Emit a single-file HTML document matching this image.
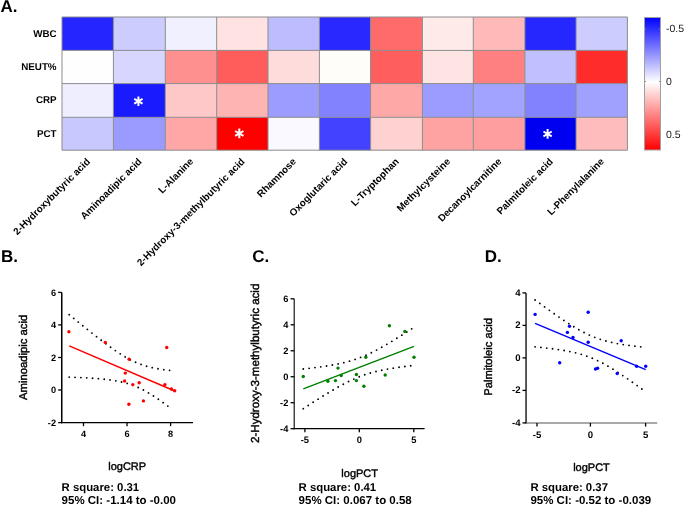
<!DOCTYPE html>
<html><head><meta charset="utf-8"><style>
html,body{margin:0;padding:0;background:#fff;}
body{width:685px;height:505px;overflow:hidden;}
svg{display:block;font-family:"Liberation Sans",sans-serif;text-rendering:geometricPrecision;will-change:transform;}
</style></head><body>
<svg width="685" height="505" viewBox="0 0 685 505">
<rect width="685" height="505" fill="#fff"/>
<rect x="62.00" y="17.00" width="51.40" height="33.40" fill="#2525ff"/>
<rect x="113.40" y="17.00" width="51.90" height="33.40" fill="#ccccff"/>
<rect x="165.30" y="17.00" width="51.40" height="33.40" fill="#f0f0ff"/>
<rect x="216.70" y="17.00" width="51.30" height="33.40" fill="#ffe2e2"/>
<rect x="268.00" y="17.00" width="51.40" height="33.40" fill="#bcbcff"/>
<rect x="319.40" y="17.00" width="51.20" height="33.40" fill="#2828ff"/>
<rect x="370.60" y="17.00" width="51.80" height="33.40" fill="#ff6a6a"/>
<rect x="422.40" y="17.00" width="50.90" height="33.40" fill="#ffeaea"/>
<rect x="473.30" y="17.00" width="51.60" height="33.40" fill="#ffb9b9"/>
<rect x="524.90" y="17.00" width="51.20" height="33.40" fill="#2626ff"/>
<rect x="576.10" y="17.00" width="51.30" height="33.40" fill="#ccccff"/>
<rect x="62.00" y="50.40" width="51.40" height="33.20" fill="#fefefe"/>
<rect x="113.40" y="50.40" width="51.90" height="33.20" fill="#d6d6ff"/>
<rect x="165.30" y="50.40" width="51.40" height="33.20" fill="#ff9090"/>
<rect x="216.70" y="50.40" width="51.30" height="33.20" fill="#ff5c5c"/>
<rect x="268.00" y="50.40" width="51.40" height="33.20" fill="#ffdcdc"/>
<rect x="319.40" y="50.40" width="51.20" height="33.20" fill="#fffdfa"/>
<rect x="370.60" y="50.40" width="51.80" height="33.20" fill="#ff5e5e"/>
<rect x="422.40" y="50.40" width="50.90" height="33.20" fill="#ffe4e4"/>
<rect x="473.30" y="50.40" width="51.60" height="33.20" fill="#ff8080"/>
<rect x="524.90" y="50.40" width="51.20" height="33.20" fill="#c0c0ff"/>
<rect x="576.10" y="50.40" width="51.30" height="33.20" fill="#ff2c2c"/>
<rect x="62.00" y="83.60" width="51.40" height="33.70" fill="#eeeeff"/>
<rect x="113.40" y="83.60" width="51.90" height="33.70" fill="#1a1aff"/>
<rect x="165.30" y="83.60" width="51.40" height="33.70" fill="#ffc8c8"/>
<rect x="216.70" y="83.60" width="51.30" height="33.70" fill="#ffb4b4"/>
<rect x="268.00" y="83.60" width="51.40" height="33.70" fill="#9c9cff"/>
<rect x="319.40" y="83.60" width="51.20" height="33.70" fill="#8282ff"/>
<rect x="370.60" y="83.60" width="51.80" height="33.70" fill="#ffa8a8"/>
<rect x="422.40" y="83.60" width="50.90" height="33.70" fill="#9c9cff"/>
<rect x="473.30" y="83.60" width="51.60" height="33.70" fill="#a2a2ff"/>
<rect x="524.90" y="83.60" width="51.20" height="33.70" fill="#8282ff"/>
<rect x="576.10" y="83.60" width="51.30" height="33.70" fill="#a0a0ff"/>
<rect x="62.00" y="117.30" width="51.40" height="32.90" fill="#c8c8ff"/>
<rect x="113.40" y="117.30" width="51.90" height="32.90" fill="#9a9aff"/>
<rect x="165.30" y="117.30" width="51.40" height="32.90" fill="#ffa6a6"/>
<rect x="216.70" y="117.30" width="51.30" height="32.90" fill="#ff0000"/>
<rect x="268.00" y="117.30" width="51.40" height="32.90" fill="#f9f9ff"/>
<rect x="319.40" y="117.30" width="51.20" height="32.90" fill="#4242ff"/>
<rect x="370.60" y="117.30" width="51.80" height="32.90" fill="#ffd2d2"/>
<rect x="422.40" y="117.30" width="50.90" height="32.90" fill="#ffa2a2"/>
<rect x="473.30" y="117.30" width="51.60" height="32.90" fill="#ff9e9e"/>
<rect x="524.90" y="117.30" width="51.20" height="32.90" fill="#0000f0"/>
<rect x="576.10" y="117.30" width="51.30" height="32.90" fill="#ffbcbc"/>
<path d="M62.00 17.00V150.20M113.40 17.00V150.20M165.30 17.00V150.20M216.70 17.00V150.20M268.00 17.00V150.20M319.40 17.00V150.20M370.60 17.00V150.20M422.40 17.00V150.20M473.30 17.00V150.20M524.90 17.00V150.20M576.10 17.00V150.20M627.40 17.00V150.20M62.00 17.00H627.50M62.00 50.40H627.50M62.00 83.60H627.50M62.00 117.30H627.50M62.00 150.20H627.50" stroke="#8c8c8c" stroke-width="1" fill="none"/>
<path d="M138.40 96.50L138.40 106.10M134.24 98.90L142.56 103.70M142.56 98.90L134.24 103.70" stroke="#fff" stroke-width="2.0" stroke-linecap="butt"/>
<path d="M239.30 128.60L239.30 138.20M235.14 131.00L243.46 135.80M243.46 131.00L235.14 135.80" stroke="#fff" stroke-width="2.0" stroke-linecap="butt"/>
<path d="M547.60 129.10L547.60 138.70M543.44 131.50L551.76 136.30M551.76 131.50L543.44 136.30" stroke="#fff" stroke-width="2.0" stroke-linecap="butt"/>
<text x="56.60" y="36.60" font-size="9.8" text-anchor="end" font-weight="bold" fill="#000" >WBC</text>
<text x="56.60" y="69.90" font-size="9.8" text-anchor="end" font-weight="bold" fill="#000" >NEUT%</text>
<text x="56.60" y="103.35" font-size="9.8" text-anchor="end" font-weight="bold" fill="#000" >CRP</text>
<text x="56.60" y="136.65" font-size="9.8" text-anchor="end" font-weight="bold" fill="#000" >PCT</text>
<text x="90.70" y="162.20" font-size="9.9" text-anchor="end" font-weight="bold" fill="#000" transform="rotate(-45 90.70 162.20)">2-Hydroxybutyric acid</text>
<text x="142.35" y="162.20" font-size="9.9" text-anchor="end" font-weight="bold" fill="#000" transform="rotate(-45 142.35 162.20)">Aminoadipic acid</text>
<text x="194.00" y="162.20" font-size="9.9" text-anchor="end" font-weight="bold" fill="#000" transform="rotate(-45 194.00 162.20)">L-Alanine</text>
<text x="245.35" y="162.20" font-size="9.9" text-anchor="end" font-weight="bold" fill="#000" transform="rotate(-45 245.35 162.20)">2-Hydroxy-3-methylbutyric acid</text>
<text x="296.70" y="162.20" font-size="9.9" text-anchor="end" font-weight="bold" fill="#000" transform="rotate(-45 296.70 162.20)">Rhamnose</text>
<text x="348.00" y="162.20" font-size="9.9" text-anchor="end" font-weight="bold" fill="#000" transform="rotate(-45 348.00 162.20)">Oxoglutaric acid</text>
<text x="399.50" y="162.20" font-size="9.9" text-anchor="end" font-weight="bold" fill="#000" transform="rotate(-45 399.50 162.20)">L-Tryptophan</text>
<text x="450.85" y="162.20" font-size="9.9" text-anchor="end" font-weight="bold" fill="#000" transform="rotate(-45 450.85 162.20)">Methylcysteine</text>
<text x="502.10" y="162.20" font-size="9.9" text-anchor="end" font-weight="bold" fill="#000" transform="rotate(-45 502.10 162.20)">Decanoylcarnitine</text>
<text x="553.50" y="162.20" font-size="9.9" text-anchor="end" font-weight="bold" fill="#000" transform="rotate(-45 553.50 162.20)">Palmitoleic acid</text>
<text x="604.75" y="162.20" font-size="9.9" text-anchor="end" font-weight="bold" fill="#000" transform="rotate(-45 604.75 162.20)">L-Phenylalanine</text>
<defs><linearGradient id="cb" x1="0" y1="0" x2="0" y2="1"><stop offset="0" stop-color="#0000ff"/><stop offset="0.487" stop-color="#ffffff"/><stop offset="1" stop-color="#ff0000"/></linearGradient></defs>
<rect x="644.5" y="17.5" width="16" height="132.5" fill="url(#cb)" stroke="#a0a0a0" stroke-width="1"/>
<path d="M644.5 29.0h1.5M660.5 29.0h-1.5" stroke="#888" stroke-width="1"/>
<path d="M644.5 81.5h1.5M660.5 81.5h-1.5" stroke="#888" stroke-width="1"/>
<path d="M644.5 134.5h1.5M660.5 134.5h-1.5" stroke="#888" stroke-width="1"/>
<text x="666.00" y="32.20" font-size="10.5" text-anchor="start" font-weight="normal" fill="#222" >-0.5</text>
<text x="666.00" y="85.30" font-size="10.5" text-anchor="start" font-weight="normal" fill="#222" >0</text>
<text x="666.00" y="138.30" font-size="10.5" text-anchor="start" font-weight="normal" fill="#222" >0.5</text>
<text x="0.50" y="12.20" font-size="17" text-anchor="start" font-weight="bold" fill="#000" >A.</text>
<text x="1.00" y="262.40" font-size="17" text-anchor="start" font-weight="bold" fill="#000" >B.</text>
<text x="252.30" y="262.30" font-size="17" text-anchor="start" font-weight="bold" fill="#000" >C.</text>
<text x="484.80" y="262.10" font-size="17" text-anchor="start" font-weight="bold" fill="#000" >D.</text>
<path d="M61.75 292.40V423.30" stroke="#000" stroke-width="1.5" fill="none"/>
<path d="M61.00 422.60H193.00" stroke="#000" stroke-width="1.4" fill="none"/>
<path d="M58.15 292.40H61.75" stroke="#000" stroke-width="1.3"/>
<text x="56.00" y="295.80" font-size="9.2" text-anchor="end" font-weight="bold" fill="#000" >6</text>
<path d="M58.15 324.90H61.75" stroke="#000" stroke-width="1.3"/>
<text x="56.00" y="328.30" font-size="9.2" text-anchor="end" font-weight="bold" fill="#000" >4</text>
<path d="M58.15 357.50H61.75" stroke="#000" stroke-width="1.3"/>
<text x="56.00" y="360.90" font-size="9.2" text-anchor="end" font-weight="bold" fill="#000" >2</text>
<path d="M58.15 390.00H61.75" stroke="#000" stroke-width="1.3"/>
<text x="56.00" y="393.40" font-size="9.2" text-anchor="end" font-weight="bold" fill="#000" >0</text>
<path d="M58.15 422.60H61.75" stroke="#000" stroke-width="1.3"/>
<text x="56.00" y="426.00" font-size="9.2" text-anchor="end" font-weight="bold" fill="#000" >-2</text>
<path d="M83.50 422.60V426.20" stroke="#000" stroke-width="1.3"/>
<text x="83.50" y="437.40" font-size="9.2" text-anchor="middle" font-weight="bold" fill="#000" >4</text>
<path d="M127.00 422.60V426.20" stroke="#000" stroke-width="1.3"/>
<text x="127.00" y="437.40" font-size="9.2" text-anchor="middle" font-weight="bold" fill="#000" >6</text>
<path d="M170.60 422.60V426.20" stroke="#000" stroke-width="1.3"/>
<text x="170.60" y="437.40" font-size="9.2" text-anchor="middle" font-weight="bold" fill="#000" >8</text>
<path d="M69.20 314.68 L69.54 314.96 L69.87 315.24 L70.21 315.51 L70.54 315.79 L70.88 316.06 L71.21 316.34 L71.55 316.61 L71.89 316.89 L72.22 317.16 L72.56 317.44 L72.89 317.71 L73.23 317.99 L73.57 318.26 L73.90 318.54 L74.24 318.81 L74.57 319.09 L74.91 319.36 L75.24 319.64 L75.58 319.91 L75.92 320.18 L76.25 320.46 L76.59 320.73 L76.92 321.00 L77.26 321.28 L77.59 321.55 L77.93 321.82 L78.27 322.10 L78.60 322.37 L78.94 322.64 L79.27 322.92 L79.61 323.19 L79.95 323.46 L80.28 323.73 L80.62 324.00 L80.95 324.28 L81.29 324.55 L81.62 324.82 L81.96 325.09 L82.30 325.36 L82.63 325.63 L82.97 325.90 L83.30 326.17 L83.64 326.44 L83.97 326.71 L84.31 326.99 L84.65 327.26 L84.98 327.52 L85.32 327.79 L85.65 328.06 L85.99 328.33 L86.33 328.60 L86.66 328.87 L87.00 329.14 L87.33 329.41 L87.67 329.68 L88.00 329.94 L88.34 330.21 L88.68 330.48 L89.01 330.75 L89.35 331.01 L89.68 331.28 L90.02 331.55 L90.35 331.81 L90.69 332.08 L91.03 332.34 L91.36 332.61 L91.70 332.88 L92.03 333.14 L92.37 333.41 L92.71 333.67 L93.04 333.93 L93.38 334.20 L93.71 334.46 L94.05 334.73 L94.38 334.99 L94.72 335.25 L95.06 335.51 L95.39 335.78 L95.73 336.04 L96.06 336.30 L96.40 336.56 L96.73 336.82 L97.07 337.08 L97.41 337.34 L97.74 337.60 L98.08 337.86 L98.41 338.12 L98.75 338.38 L99.08 338.64 L99.42 338.90 L99.76 339.16 L100.09 339.41 L100.43 339.67 L100.76 339.93 L101.10 340.18 L101.44 340.44 L101.77 340.70 L102.11 340.95 L102.44 341.21 L102.78 341.46 L103.11 341.71 L103.45 341.97 L103.79 342.22 L104.12 342.47 L104.46 342.72 L104.79 342.98 L105.13 343.23 L105.46 343.48 L105.80 343.73 L106.14 343.98 L106.47 344.22 L106.81 344.47 L107.14 344.72 L107.48 344.97 L107.82 345.21 L108.15 345.46 L108.49 345.70 L108.82 345.95 L109.16 346.19 L109.49 346.44 L109.83 346.68 L110.17 346.92 L110.50 347.16 L110.84 347.40 L111.17 347.64 L111.51 347.88 L111.84 348.12 L112.18 348.36 L112.52 348.60 L112.85 348.83 L113.19 349.07 L113.52 349.31 L113.86 349.54 L114.20 349.77 L114.53 350.01 L114.87 350.24 L115.20 350.47 L115.54 350.70 L115.87 350.93 L116.21 351.16 L116.55 351.38 L116.88 351.61 L117.22 351.84 L117.55 352.06 L117.89 352.28 L118.22 352.51 L118.56 352.73 L118.90 352.95 L119.23 353.17 L119.57 353.39 L119.90 353.60 L120.24 353.82 L120.58 354.03 L120.91 354.25 L121.25 354.46 L121.58 354.67 L121.92 354.88 L122.25 355.09 L122.59 355.30 L122.93 355.51 L123.26 355.71 L123.60 355.92 L123.93 356.12 L124.27 356.32 L124.60 356.52 L124.94 356.72 L125.28 356.92 L125.61 357.12 L125.95 357.31 L126.28 357.51 L126.62 357.70 L126.96 357.89 L127.29 358.08 L127.63 358.27 L127.96 358.45 L128.30 358.64 L128.63 358.82 L128.97 359.00 L129.31 359.18 L129.64 359.36 L129.98 359.54 L130.31 359.72 L130.65 359.89 L130.98 360.06 L131.32 360.23 L131.66 360.40 L131.99 360.57 L132.33 360.74 L132.66 360.90 L133.00 361.06 L133.34 361.22 L133.67 361.38 L134.01 361.54 L134.34 361.70 L134.68 361.85 L135.01 362.00 L135.35 362.15 L135.69 362.30 L136.02 362.45 L136.36 362.60 L136.69 362.74 L137.03 362.88 L137.36 363.02 L137.70 363.16 L138.04 363.30 L138.37 363.43 L138.71 363.57 L139.04 363.70 L139.38 363.83 L139.72 363.96 L140.05 364.09 L140.39 364.21 L140.72 364.34 L141.06 364.46 L141.39 364.58 L141.73 364.70 L142.07 364.81 L142.40 364.93 L142.74 365.04 L143.07 365.16 L143.41 365.27 L143.74 365.38 L144.08 365.48 L144.42 365.59 L144.75 365.69 L145.09 365.80 L145.42 365.90 L145.76 366.00 L146.09 366.10 L146.43 366.19 L146.77 366.29 L147.10 366.38 L147.44 366.48 L147.77 366.57 L148.11 366.66 L148.45 366.75 L148.78 366.83 L149.12 366.92 L149.45 367.00 L149.79 367.09 L150.12 367.17 L150.46 367.25 L150.80 367.33 L151.13 367.41 L151.47 367.49 L151.80 367.56 L152.14 367.64 L152.47 367.71 L152.81 367.78 L153.15 367.86 L153.48 367.93 L153.82 368.00 L154.15 368.06 L154.49 368.13 L154.83 368.20 L155.16 368.26 L155.50 368.33 L155.83 368.39 L156.17 368.45 L156.50 368.51 L156.84 368.57 L157.18 368.63 L157.51 368.69 L157.85 368.75 L158.18 368.81 L158.52 368.86 L158.85 368.92 L159.19 368.97 L159.53 369.03 L159.86 369.08 L160.20 369.13 L160.53 369.18 L160.87 369.23 L161.21 369.28 L161.54 369.33 L161.88 369.38 L162.21 369.43 L162.55 369.47 L162.88 369.52 L163.22 369.56 L163.56 369.61 L163.89 369.65 L164.23 369.70 L164.56 369.74 L164.90 369.78 L165.23 369.82 L165.57 369.86 L165.91 369.90 L166.24 369.94 L166.58 369.98 L166.91 370.02 L167.25 370.06 L167.59 370.10 L167.92 370.14 L168.26 370.17 L168.59 370.21 L168.93 370.24 L169.26 370.28 L169.60 370.31" stroke="#000" stroke-width="1.85" fill="none" stroke-dasharray="0 5.849" stroke-linecap="round"/>
<path d="M69.20 377.11 L69.55 377.13 L69.89 377.14 L70.24 377.15 L70.58 377.16 L70.93 377.17 L71.27 377.19 L71.62 377.20 L71.96 377.21 L72.31 377.22 L72.65 377.24 L73.00 377.25 L73.35 377.26 L73.69 377.28 L74.04 377.29 L74.38 377.30 L74.73 377.31 L75.07 377.33 L75.42 377.34 L75.76 377.36 L76.11 377.37 L76.46 377.38 L76.80 377.40 L77.15 377.41 L77.49 377.43 L77.84 377.44 L78.18 377.46 L78.53 377.47 L78.87 377.49 L79.22 377.50 L79.56 377.52 L79.91 377.53 L80.26 377.55 L80.60 377.56 L80.95 377.58 L81.29 377.60 L81.64 377.61 L81.98 377.63 L82.33 377.65 L82.67 377.66 L83.02 377.68 L83.36 377.70 L83.71 377.71 L84.06 377.73 L84.40 377.75 L84.75 377.77 L85.09 377.79 L85.44 377.80 L85.78 377.82 L86.13 377.84 L86.47 377.86 L86.82 377.88 L87.17 377.90 L87.51 377.92 L87.86 377.94 L88.20 377.96 L88.55 377.98 L88.89 378.00 L89.24 378.02 L89.58 378.04 L89.93 378.06 L90.27 378.09 L90.62 378.11 L90.97 378.13 L91.31 378.15 L91.66 378.17 L92.00 378.20 L92.35 378.22 L92.69 378.24 L93.04 378.27 L93.38 378.29 L93.73 378.32 L94.07 378.34 L94.42 378.36 L94.77 378.39 L95.11 378.42 L95.46 378.44 L95.80 378.47 L96.15 378.49 L96.49 378.52 L96.84 378.55 L97.18 378.58 L97.53 378.60 L97.88 378.63 L98.22 378.66 L98.57 378.69 L98.91 378.72 L99.26 378.75 L99.60 378.78 L99.95 378.81 L100.29 378.84 L100.64 378.87 L100.98 378.90 L101.33 378.94 L101.68 378.97 L102.02 379.00 L102.37 379.04 L102.71 379.07 L103.06 379.10 L103.40 379.14 L103.75 379.17 L104.09 379.21 L104.44 379.25 L104.78 379.28 L105.13 379.32 L105.48 379.36 L105.82 379.40 L106.17 379.44 L106.51 379.48 L106.86 379.52 L107.20 379.56 L107.55 379.60 L107.89 379.64 L108.24 379.69 L108.59 379.73 L108.93 379.77 L109.28 379.82 L109.62 379.86 L109.97 379.91 L110.31 379.96 L110.66 380.00 L111.00 380.05 L111.35 380.10 L111.69 380.15 L112.04 380.20 L112.39 380.25 L112.73 380.30 L113.08 380.36 L113.42 380.41 L113.77 380.47 L114.11 380.52 L114.46 380.58 L114.80 380.63 L115.15 380.69 L115.49 380.75 L115.84 380.81 L116.19 380.87 L116.53 380.93 L116.88 381.00 L117.22 381.06 L117.57 381.12 L117.91 381.19 L118.26 381.26 L118.60 381.32 L118.95 381.39 L119.30 381.46 L119.64 381.53 L119.99 381.61 L120.33 381.68 L120.68 381.75 L121.02 381.83 L121.37 381.91 L121.71 381.99 L122.06 382.07 L122.40 382.15 L122.75 382.23 L123.10 382.31 L123.44 382.40 L123.79 382.48 L124.13 382.57 L124.48 382.66 L124.82 382.75 L125.17 382.84 L125.51 382.93 L125.86 383.03 L126.21 383.12 L126.55 383.22 L126.90 383.32 L127.24 383.42 L127.59 383.52 L127.93 383.63 L128.28 383.73 L128.62 383.84 L128.97 383.95 L129.31 384.06 L129.66 384.17 L130.01 384.28 L130.35 384.40 L130.70 384.52 L131.04 384.63 L131.39 384.75 L131.73 384.88 L132.08 385.00 L132.42 385.12 L132.77 385.25 L133.11 385.38 L133.46 385.51 L133.81 385.64 L134.15 385.78 L134.50 385.91 L134.84 386.05 L135.19 386.19 L135.53 386.33 L135.88 386.48 L136.22 386.62 L136.57 386.77 L136.92 386.92 L137.26 387.07 L137.61 387.22 L137.95 387.37 L138.30 387.53 L138.64 387.69 L138.99 387.85 L139.33 388.01 L139.68 388.17 L140.02 388.34 L140.37 388.50 L140.72 388.67 L141.06 388.84 L141.41 389.01 L141.75 389.19 L142.10 389.36 L142.44 389.54 L142.79 389.72 L143.13 389.90 L143.48 390.08 L143.82 390.26 L144.17 390.45 L144.52 390.64 L144.86 390.82 L145.21 391.01 L145.55 391.21 L145.90 391.40 L146.24 391.60 L146.59 391.79 L146.93 391.99 L147.28 392.19 L147.63 392.39 L147.97 392.59 L148.32 392.80 L148.66 393.00 L149.01 393.21 L149.35 393.42 L149.70 393.63 L150.04 393.84 L150.39 394.05 L150.73 394.26 L151.08 394.48 L151.43 394.69 L151.77 394.91 L152.12 395.13 L152.46 395.35 L152.81 395.57 L153.15 395.79 L153.50 396.01 L153.84 396.24 L154.19 396.46 L154.53 396.69 L154.88 396.92 L155.23 397.15 L155.57 397.38 L155.92 397.61 L156.26 397.84 L156.61 398.07 L156.95 398.31 L157.30 398.54 L157.64 398.78 L157.99 399.01 L158.34 399.25 L158.68 399.49 L159.03 399.73 L159.37 399.97 L159.72 400.21 L160.06 400.45 L160.41 400.70 L160.75 400.94 L161.10 401.18 L161.44 401.43 L161.79 401.67 L162.14 401.92 L162.48 402.17 L162.83 402.42 L163.17 402.67 L163.52 402.92 L163.86 403.17 L164.21 403.42 L164.55 403.67 L164.90 403.92 L165.24 404.17 L165.59 404.43 L165.94 404.68 L166.28 404.94 L166.63 405.19 L166.97 405.45 L167.32 405.70 L167.66 405.96 L168.01 406.22 L168.35 406.48 L168.70 406.73 L169.05 406.99 L169.39 407.25 L169.74 407.51 L170.08 407.77 L170.43 408.03 L170.77 408.30 L171.12 408.56 L171.46 408.82 L171.81 409.08 L172.15 409.35 L172.50 409.61" stroke="#000" stroke-width="1.85" fill="none" stroke-dasharray="0 5.849" stroke-linecap="round"/>
<path d="M69.20 345.90L174.70 391.04" stroke="#ff0000" stroke-width="1.5"/>
<circle cx="68.90" cy="331.80" r="1.7" fill="#ff0000"/>
<circle cx="105.30" cy="342.40" r="1.7" fill="#ff0000"/>
<circle cx="166.70" cy="347.50" r="1.7" fill="#ff0000"/>
<circle cx="129.10" cy="359.20" r="1.7" fill="#ff0000"/>
<circle cx="125.30" cy="373.10" r="1.7" fill="#ff0000"/>
<circle cx="124.60" cy="381.00" r="1.7" fill="#ff0000"/>
<circle cx="132.80" cy="384.60" r="1.7" fill="#ff0000"/>
<circle cx="139.20" cy="382.80" r="1.7" fill="#ff0000"/>
<circle cx="164.90" cy="384.60" r="1.7" fill="#ff0000"/>
<circle cx="171.40" cy="389.00" r="1.7" fill="#ff0000"/>
<circle cx="174.70" cy="390.70" r="1.7" fill="#ff0000"/>
<circle cx="128.90" cy="404.30" r="1.7" fill="#ff0000"/>
<circle cx="143.40" cy="400.90" r="1.7" fill="#ff0000"/>
<text x="26.60" y="357.40" font-size="11.27" text-anchor="middle" font-weight="normal" fill="#000" transform="rotate(-90 26.60 357.40)" stroke="#000" stroke-width="0.4">Aminoadipic acid</text>
<text x="127.20" y="470.00" font-size="11.0" text-anchor="middle" font-weight="normal" fill="#000" stroke="#000" stroke-width="0.4">logCRP</text>
<text x="61.60" y="491.30" font-size="11.35" text-anchor="start" font-weight="bold" fill="#000" >R square: 0.31</text>
<text x="61.60" y="504.30" font-size="11.5" text-anchor="start" font-weight="bold" fill="#000" >95% CI: -1.14 to -0.00</text>
<path d="M294.20 298.80V429.35" stroke="#000" stroke-width="1.1" fill="none"/>
<path d="M293.65 428.70H424.60" stroke="#000" stroke-width="1.3" fill="none"/>
<path d="M290.60 298.80H294.20" stroke="#000" stroke-width="1.3"/>
<text x="288.40" y="302.00" font-size="9.3" text-anchor="end" font-weight="bold" fill="#000" >6</text>
<path d="M290.60 324.78H294.20" stroke="#000" stroke-width="1.3"/>
<text x="288.40" y="327.98" font-size="9.3" text-anchor="end" font-weight="bold" fill="#000" >4</text>
<path d="M290.60 350.76H294.20" stroke="#000" stroke-width="1.3"/>
<text x="288.40" y="353.96" font-size="9.3" text-anchor="end" font-weight="bold" fill="#000" >2</text>
<path d="M290.60 376.74H294.20" stroke="#000" stroke-width="1.3"/>
<text x="288.40" y="379.94" font-size="9.3" text-anchor="end" font-weight="bold" fill="#000" >0</text>
<path d="M290.60 402.72H294.20" stroke="#000" stroke-width="1.3"/>
<text x="288.40" y="405.92" font-size="9.3" text-anchor="end" font-weight="bold" fill="#000" >-2</text>
<path d="M290.60 428.70H294.20" stroke="#000" stroke-width="1.3"/>
<text x="288.40" y="431.90" font-size="9.3" text-anchor="end" font-weight="bold" fill="#000" >-4</text>
<path d="M304.90 428.70V432.30" stroke="#000" stroke-width="1.3"/>
<text x="304.90" y="443.30" font-size="9.3" text-anchor="middle" font-weight="bold" fill="#000" >-5</text>
<path d="M359.30 428.70V432.30" stroke="#000" stroke-width="1.3"/>
<text x="359.30" y="443.30" font-size="9.3" text-anchor="middle" font-weight="bold" fill="#000" >0</text>
<path d="M413.80 428.70V432.30" stroke="#000" stroke-width="1.3"/>
<text x="413.80" y="443.30" font-size="9.3" text-anchor="middle" font-weight="bold" fill="#000" >5</text>
<path d="M303.30 369.03 L303.66 368.98 L304.03 368.94 L304.39 368.90 L304.75 368.86 L305.11 368.82 L305.48 368.78 L305.84 368.73 L306.20 368.69 L306.56 368.65 L306.93 368.61 L307.29 368.56 L307.65 368.52 L308.01 368.48 L308.38 368.43 L308.74 368.39 L309.10 368.35 L309.46 368.30 L309.83 368.26 L310.19 368.21 L310.55 368.17 L310.91 368.12 L311.28 368.08 L311.64 368.03 L312.00 367.99 L312.36 367.94 L312.73 367.90 L313.09 367.85 L313.45 367.81 L313.81 367.76 L314.18 367.71 L314.54 367.67 L314.90 367.62 L315.26 367.57 L315.63 367.52 L315.99 367.48 L316.35 367.43 L316.71 367.38 L317.08 367.33 L317.44 367.28 L317.80 367.23 L318.16 367.18 L318.53 367.14 L318.89 367.09 L319.25 367.04 L319.61 366.98 L319.98 366.93 L320.34 366.88 L320.70 366.83 L321.06 366.78 L321.43 366.73 L321.79 366.68 L322.15 366.62 L322.51 366.57 L322.88 366.52 L323.24 366.46 L323.60 366.41 L323.96 366.36 L324.33 366.30 L324.69 366.25 L325.05 366.19 L325.42 366.14 L325.78 366.08 L326.14 366.02 L326.50 365.97 L326.87 365.91 L327.23 365.85 L327.59 365.79 L327.95 365.74 L328.32 365.68 L328.68 365.62 L329.04 365.56 L329.40 365.50 L329.77 365.44 L330.13 365.38 L330.49 365.31 L330.85 365.25 L331.22 365.19 L331.58 365.13 L331.94 365.06 L332.30 365.00 L332.67 364.93 L333.03 364.87 L333.39 364.80 L333.75 364.74 L334.12 364.67 L334.48 364.60 L334.84 364.53 L335.20 364.47 L335.57 364.40 L335.93 364.33 L336.29 364.26 L336.65 364.18 L337.02 364.11 L337.38 364.04 L337.74 363.97 L338.10 363.89 L338.47 363.82 L338.83 363.74 L339.19 363.67 L339.55 363.59 L339.92 363.51 L340.28 363.43 L340.64 363.36 L341.00 363.28 L341.37 363.20 L341.73 363.11 L342.09 363.03 L342.45 362.95 L342.82 362.86 L343.18 362.78 L343.54 362.69 L343.90 362.61 L344.27 362.52 L344.63 362.43 L344.99 362.34 L345.35 362.25 L345.72 362.16 L346.08 362.07 L346.44 361.97 L346.81 361.88 L347.17 361.79 L347.53 361.69 L347.89 361.59 L348.26 361.49 L348.62 361.39 L348.98 361.29 L349.34 361.19 L349.71 361.09 L350.07 360.99 L350.43 360.88 L350.79 360.77 L351.16 360.67 L351.52 360.56 L351.88 360.45 L352.24 360.34 L352.61 360.23 L352.97 360.11 L353.33 360.00 L353.69 359.88 L354.06 359.77 L354.42 359.65 L354.78 359.53 L355.14 359.41 L355.51 359.29 L355.87 359.16 L356.23 359.04 L356.59 358.91 L356.96 358.79 L357.32 358.66 L357.68 358.53 L358.04 358.40 L358.41 358.27 L358.77 358.13 L359.13 358.00 L359.49 357.86 L359.86 357.73 L360.22 357.59 L360.58 357.45 L360.94 357.31 L361.31 357.16 L361.67 357.02 L362.03 356.87 L362.39 356.73 L362.76 356.58 L363.12 356.43 L363.48 356.28 L363.84 356.13 L364.21 355.98 L364.57 355.82 L364.93 355.67 L365.29 355.51 L365.66 355.35 L366.02 355.19 L366.38 355.03 L366.74 354.87 L367.11 354.71 L367.47 354.54 L367.83 354.38 L368.19 354.21 L368.56 354.04 L368.92 353.87 L369.28 353.70 L369.65 353.53 L370.01 353.36 L370.37 353.19 L370.73 353.01 L371.10 352.83 L371.46 352.66 L371.82 352.48 L372.18 352.30 L372.55 352.12 L372.91 351.94 L373.27 351.76 L373.63 351.57 L374.00 351.39 L374.36 351.20 L374.72 351.02 L375.08 350.83 L375.45 350.64 L375.81 350.45 L376.17 350.26 L376.53 350.07 L376.90 349.88 L377.26 349.69 L377.62 349.49 L377.98 349.30 L378.35 349.10 L378.71 348.91 L379.07 348.71 L379.43 348.51 L379.80 348.31 L380.16 348.11 L380.52 347.91 L380.88 347.71 L381.25 347.51 L381.61 347.31 L381.97 347.11 L382.33 346.90 L382.70 346.70 L383.06 346.49 L383.42 346.29 L383.78 346.08 L384.15 345.87 L384.51 345.66 L384.87 345.46 L385.23 345.25 L385.60 345.04 L385.96 344.83 L386.32 344.62 L386.68 344.40 L387.05 344.19 L387.41 343.98 L387.77 343.77 L388.13 343.55 L388.50 343.34 L388.86 343.12 L389.22 342.91 L389.58 342.69 L389.95 342.48 L390.31 342.26 L390.67 342.04 L391.04 341.82 L391.40 341.61 L391.76 341.39 L392.12 341.17 L392.49 340.95 L392.85 340.73 L393.21 340.51 L393.57 340.29 L393.94 340.07 L394.30 339.84 L394.66 339.62 L395.02 339.40 L395.39 339.18 L395.75 338.95 L396.11 338.73 L396.47 338.51 L396.84 338.28 L397.20 338.06 L397.56 337.83 L397.92 337.61 L398.29 337.38 L398.65 337.16 L399.01 336.93 L399.37 336.70 L399.74 336.48 L400.10 336.25 L400.46 336.02 L400.82 335.79 L401.19 335.57 L401.55 335.34 L401.91 335.11 L402.27 334.88 L402.64 334.65 L403.00 334.42 L403.36 334.19 L403.72 333.96 L404.09 333.73 L404.45 333.50 L404.81 333.27 L405.17 333.04 L405.54 332.81 L405.90 332.58 L406.26 332.35 L406.62 332.11 L406.99 331.88 L407.35 331.65 L407.71 331.42 L408.07 331.19 L408.44 330.95 L408.80 330.72 L409.16 330.49 L409.52 330.25 L409.89 330.02 L410.25 329.79 L410.61 329.55 L410.97 329.32 L411.34 329.08 L411.70 328.85" stroke="#000" stroke-width="1.85" fill="none" stroke-dasharray="0 5.864" stroke-linecap="round"/>
<path d="M303.30 408.66 L303.66 408.43 L304.02 408.19 L304.38 407.96 L304.74 407.72 L305.10 407.49 L305.46 407.26 L305.81 407.02 L306.17 406.79 L306.53 406.55 L306.89 406.32 L307.25 406.09 L307.61 405.85 L307.97 405.62 L308.33 405.39 L308.69 405.16 L309.05 404.92 L309.41 404.69 L309.77 404.46 L310.12 404.23 L310.48 404.00 L310.84 403.76 L311.20 403.53 L311.56 403.30 L311.92 403.07 L312.28 402.84 L312.64 402.61 L313.00 402.38 L313.36 402.15 L313.72 401.92 L314.08 401.69 L314.44 401.46 L314.79 401.23 L315.15 401.00 L315.51 400.77 L315.87 400.55 L316.23 400.32 L316.59 400.09 L316.95 399.86 L317.31 399.63 L317.67 399.41 L318.03 399.18 L318.39 398.95 L318.75 398.73 L319.10 398.50 L319.46 398.27 L319.82 398.05 L320.18 397.82 L320.54 397.60 L320.90 397.37 L321.26 397.15 L321.62 396.92 L321.98 396.70 L322.34 396.48 L322.70 396.25 L323.06 396.03 L323.42 395.81 L323.77 395.59 L324.13 395.36 L324.49 395.14 L324.85 394.92 L325.21 394.70 L325.57 394.48 L325.93 394.26 L326.29 394.04 L326.65 393.82 L327.01 393.60 L327.37 393.38 L327.73 393.16 L328.08 392.95 L328.44 392.73 L328.80 392.51 L329.16 392.30 L329.52 392.08 L329.88 391.86 L330.24 391.65 L330.60 391.44 L330.96 391.22 L331.32 391.01 L331.68 390.79 L332.04 390.58 L332.39 390.37 L332.75 390.16 L333.11 389.95 L333.47 389.74 L333.83 389.53 L334.19 389.32 L334.55 389.11 L334.91 388.90 L335.27 388.69 L335.63 388.49 L335.99 388.28 L336.35 388.07 L336.71 387.87 L337.06 387.66 L337.42 387.46 L337.78 387.26 L338.14 387.05 L338.50 386.85 L338.86 386.65 L339.22 386.45 L339.58 386.25 L339.94 386.05 L340.30 385.85 L340.66 385.66 L341.02 385.46 L341.37 385.26 L341.73 385.07 L342.09 384.88 L342.45 384.68 L342.81 384.49 L343.17 384.30 L343.53 384.11 L343.89 383.92 L344.25 383.73 L344.61 383.54 L344.97 383.35 L345.33 383.17 L345.69 382.98 L346.04 382.80 L346.40 382.61 L346.76 382.43 L347.12 382.25 L347.48 382.07 L347.84 381.89 L348.20 381.71 L348.56 381.53 L348.92 381.36 L349.28 381.18 L349.64 381.01 L350.00 380.83 L350.35 380.66 L350.71 380.49 L351.07 380.32 L351.43 380.15 L351.79 379.99 L352.15 379.82 L352.51 379.65 L352.87 379.49 L353.23 379.33 L353.59 379.17 L353.95 379.00 L354.31 378.85 L354.67 378.69 L355.02 378.53 L355.38 378.38 L355.74 378.22 L356.10 378.07 L356.46 377.92 L356.82 377.77 L357.18 377.62 L357.54 377.47 L357.90 377.32 L358.26 377.18 L358.62 377.03 L358.98 376.89 L359.33 376.75 L359.69 376.61 L360.05 376.47 L360.41 376.33 L360.77 376.19 L361.13 376.06 L361.49 375.93 L361.85 375.79 L362.21 375.66 L362.57 375.53 L362.93 375.40 L363.29 375.28 L363.65 375.15 L364.00 375.02 L364.36 374.90 L364.72 374.78 L365.08 374.66 L365.44 374.54 L365.80 374.42 L366.16 374.30 L366.52 374.19 L366.88 374.07 L367.24 373.96 L367.60 373.84 L367.96 373.73 L368.31 373.62 L368.67 373.51 L369.03 373.41 L369.39 373.30 L369.75 373.19 L370.11 373.09 L370.47 372.98 L370.83 372.88 L371.19 372.78 L371.55 372.68 L371.91 372.58 L372.27 372.48 L372.63 372.39 L372.98 372.29 L373.34 372.20 L373.70 372.10 L374.06 372.01 L374.42 371.92 L374.78 371.83 L375.14 371.74 L375.50 371.65 L375.86 371.56 L376.22 371.47 L376.58 371.38 L376.94 371.30 L377.29 371.21 L377.65 371.13 L378.01 371.05 L378.37 370.97 L378.73 370.88 L379.09 370.80 L379.45 370.72 L379.81 370.65 L380.17 370.57 L380.53 370.49 L380.89 370.41 L381.25 370.34 L381.61 370.26 L381.96 370.19 L382.32 370.11 L382.68 370.04 L383.04 369.97 L383.40 369.90 L383.76 369.83 L384.12 369.76 L384.48 369.69 L384.84 369.62 L385.20 369.55 L385.56 369.48 L385.92 369.41 L386.27 369.35 L386.63 369.28 L386.99 369.21 L387.35 369.15 L387.71 369.08 L388.07 369.02 L388.43 368.96 L388.79 368.89 L389.15 368.83 L389.51 368.77 L389.87 368.71 L390.23 368.65 L390.58 368.59 L390.94 368.53 L391.30 368.47 L391.66 368.41 L392.02 368.35 L392.38 368.29 L392.74 368.23 L393.10 368.17 L393.46 368.12 L393.82 368.06 L394.18 368.00 L394.54 367.95 L394.90 367.89 L395.25 367.84 L395.61 367.78 L395.97 367.73 L396.33 367.67 L396.69 367.62 L397.05 367.57 L397.41 367.51 L397.77 367.46 L398.13 367.41 L398.49 367.36 L398.85 367.30 L399.21 367.25 L399.56 367.20 L399.92 367.15 L400.28 367.10 L400.64 367.05 L401.00 367.00 L401.36 366.95 L401.72 366.90 L402.08 366.85 L402.44 366.80 L402.80 366.75 L403.16 366.71 L403.52 366.66 L403.88 366.61 L404.23 366.56 L404.59 366.52 L404.95 366.47 L405.31 366.42 L405.67 366.37 L406.03 366.33 L406.39 366.28 L406.75 366.24 L407.11 366.19 L407.47 366.14 L407.83 366.10 L408.19 366.05 L408.54 366.01 L408.90 365.96 L409.26 365.92 L409.62 365.88 L409.98 365.83 L410.34 365.79 L410.70 365.74" stroke="#000" stroke-width="1.85" fill="none" stroke-dasharray="0 5.863" stroke-linecap="round"/>
<path d="M303.30 388.84L414.00 346.35" stroke="#008000" stroke-width="1.5"/>
<circle cx="303.30" cy="376.50" r="1.7" fill="#008000"/>
<circle cx="327.90" cy="381.30" r="1.7" fill="#008000"/>
<circle cx="335.50" cy="380.60" r="1.7" fill="#008000"/>
<circle cx="338.00" cy="368.10" r="1.7" fill="#008000"/>
<circle cx="341.20" cy="375.50" r="1.7" fill="#008000"/>
<circle cx="356.40" cy="374.50" r="1.7" fill="#008000"/>
<circle cx="356.40" cy="380.60" r="1.7" fill="#008000"/>
<circle cx="363.90" cy="386.20" r="1.7" fill="#008000"/>
<circle cx="365.80" cy="357.30" r="1.7" fill="#008000"/>
<circle cx="385.20" cy="375.00" r="1.7" fill="#008000"/>
<circle cx="389.40" cy="325.70" r="1.7" fill="#008000"/>
<circle cx="404.90" cy="331.40" r="1.7" fill="#008000"/>
<circle cx="414.00" cy="357.30" r="1.7" fill="#008000"/>
<text x="258.80" y="363.30" font-size="11.57" text-anchor="middle" font-weight="normal" fill="#000" transform="rotate(-90 258.80 363.30)" stroke="#000" stroke-width="0.4">2-Hydroxy-3-methylbutyric acid</text>
<text x="359.70" y="476.80" font-size="11.0" text-anchor="middle" font-weight="normal" fill="#000" stroke="#000" stroke-width="0.4">logPCT</text>
<text x="298.60" y="490.50" font-size="11.35" text-anchor="start" font-weight="bold" fill="#000" >R square: 0.41</text>
<text x="298.60" y="503.50" font-size="11.5" text-anchor="start" font-weight="bold" fill="#000" >95% CI: 0.067 to 0.58</text>
<path d="M526.05 293.00V423.60" stroke="#222" stroke-width="1.5" fill="none"/>
<path d="M525.30 423.00H657.20" stroke="#555" stroke-width="1.2" fill="none"/>
<path d="M522.45 292.90H526.05" stroke="#000" stroke-width="1.3"/>
<text x="520.60" y="295.90" font-size="9.6" text-anchor="end" font-weight="bold" fill="#000" >4</text>
<path d="M522.45 325.40H526.05" stroke="#000" stroke-width="1.3"/>
<text x="520.60" y="328.40" font-size="9.6" text-anchor="end" font-weight="bold" fill="#000" >2</text>
<path d="M522.45 357.90H526.05" stroke="#000" stroke-width="1.3"/>
<text x="520.60" y="360.90" font-size="9.6" text-anchor="end" font-weight="bold" fill="#000" >0</text>
<path d="M522.45 390.40H526.05" stroke="#000" stroke-width="1.3"/>
<text x="520.60" y="393.40" font-size="9.6" text-anchor="end" font-weight="bold" fill="#000" >-2</text>
<path d="M522.45 422.90H526.05" stroke="#000" stroke-width="1.3"/>
<text x="520.60" y="425.90" font-size="9.6" text-anchor="end" font-weight="bold" fill="#000" >-4</text>
<path d="M537.00 423.00V426.60" stroke="#000" stroke-width="1.3"/>
<text x="537.00" y="438.20" font-size="9.6" text-anchor="middle" font-weight="bold" fill="#000" >-5</text>
<path d="M590.40 423.00V426.60" stroke="#000" stroke-width="1.3"/>
<text x="590.40" y="438.20" font-size="9.6" text-anchor="middle" font-weight="bold" fill="#000" >0</text>
<path d="M645.60 423.00V426.60" stroke="#000" stroke-width="1.3"/>
<text x="645.60" y="438.20" font-size="9.6" text-anchor="middle" font-weight="bold" fill="#000" >5</text>
<path d="M535.10 299.95 L535.45 300.21 L535.81 300.47 L536.16 300.73 L536.51 300.99 L536.87 301.25 L537.22 301.51 L537.57 301.77 L537.93 302.03 L538.28 302.29 L538.63 302.55 L538.98 302.80 L539.34 303.06 L539.69 303.32 L540.04 303.58 L540.40 303.84 L540.75 304.10 L541.10 304.36 L541.46 304.61 L541.81 304.87 L542.16 305.13 L542.52 305.39 L542.87 305.64 L543.22 305.90 L543.58 306.16 L543.93 306.41 L544.28 306.67 L544.64 306.92 L544.99 307.18 L545.34 307.43 L545.70 307.69 L546.05 307.94 L546.40 308.20 L546.75 308.45 L547.11 308.71 L547.46 308.96 L547.81 309.22 L548.17 309.47 L548.52 309.72 L548.87 309.97 L549.23 310.23 L549.58 310.48 L549.93 310.73 L550.29 310.98 L550.64 311.23 L550.99 311.49 L551.35 311.74 L551.70 311.99 L552.05 312.24 L552.41 312.49 L552.76 312.74 L553.11 312.99 L553.47 313.23 L553.82 313.48 L554.17 313.73 L554.52 313.98 L554.88 314.23 L555.23 314.47 L555.58 314.72 L555.94 314.97 L556.29 315.21 L556.64 315.46 L557.00 315.70 L557.35 315.95 L557.70 316.19 L558.06 316.44 L558.41 316.68 L558.76 316.92 L559.12 317.16 L559.47 317.41 L559.82 317.65 L560.18 317.89 L560.53 318.13 L560.88 318.37 L561.24 318.61 L561.59 318.85 L561.94 319.09 L562.29 319.33 L562.65 319.56 L563.00 319.80 L563.35 320.04 L563.71 320.27 L564.06 320.51 L564.41 320.74 L564.77 320.98 L565.12 321.21 L565.47 321.44 L565.83 321.68 L566.18 321.91 L566.53 322.14 L566.89 322.37 L567.24 322.60 L567.59 322.83 L567.95 323.06 L568.30 323.28 L568.65 323.51 L569.01 323.74 L569.36 323.96 L569.71 324.19 L570.06 324.41 L570.42 324.63 L570.77 324.86 L571.12 325.08 L571.48 325.30 L571.83 325.52 L572.18 325.74 L572.54 325.96 L572.89 326.17 L573.24 326.39 L573.60 326.61 L573.95 326.82 L574.30 327.03 L574.66 327.25 L575.01 327.46 L575.36 327.67 L575.72 327.88 L576.07 328.09 L576.42 328.30 L576.77 328.50 L577.13 328.71 L577.48 328.91 L577.83 329.12 L578.19 329.32 L578.54 329.52 L578.89 329.72 L579.25 329.92 L579.60 330.12 L579.95 330.31 L580.31 330.51 L580.66 330.70 L581.01 330.90 L581.37 331.09 L581.72 331.28 L582.07 331.47 L582.43 331.66 L582.78 331.84 L583.13 332.03 L583.49 332.21 L583.84 332.40 L584.19 332.58 L584.54 332.76 L584.90 332.94 L585.25 333.11 L585.60 333.29 L585.96 333.47 L586.31 333.64 L586.66 333.81 L587.02 333.98 L587.37 334.15 L587.72 334.32 L588.08 334.48 L588.43 334.65 L588.78 334.81 L589.14 334.97 L589.49 335.13 L589.84 335.29 L590.20 335.45 L590.55 335.61 L590.90 335.76 L591.26 335.91 L591.61 336.07 L591.96 336.22 L592.31 336.36 L592.67 336.51 L593.02 336.66 L593.37 336.80 L593.73 336.94 L594.08 337.08 L594.43 337.22 L594.79 337.36 L595.14 337.50 L595.49 337.63 L595.85 337.77 L596.20 337.90 L596.55 338.03 L596.91 338.16 L597.26 338.29 L597.61 338.41 L597.97 338.54 L598.32 338.66 L598.67 338.78 L599.03 338.90 L599.38 339.02 L599.73 339.14 L600.08 339.26 L600.44 339.37 L600.79 339.48 L601.14 339.60 L601.50 339.71 L601.85 339.82 L602.20 339.93 L602.56 340.03 L602.91 340.14 L603.26 340.24 L603.62 340.35 L603.97 340.45 L604.32 340.55 L604.68 340.65 L605.03 340.75 L605.38 340.85 L605.74 340.94 L606.09 341.04 L606.44 341.13 L606.79 341.22 L607.15 341.32 L607.50 341.41 L607.85 341.50 L608.21 341.58 L608.56 341.67 L608.91 341.76 L609.27 341.84 L609.62 341.93 L609.97 342.01 L610.33 342.09 L610.68 342.18 L611.03 342.26 L611.39 342.34 L611.74 342.41 L612.09 342.49 L612.45 342.57 L612.80 342.65 L613.15 342.72 L613.51 342.80 L613.86 342.87 L614.21 342.94 L614.56 343.01 L614.92 343.09 L615.27 343.16 L615.62 343.23 L615.98 343.29 L616.33 343.36 L616.68 343.43 L617.04 343.50 L617.39 343.56 L617.74 343.63 L618.10 343.69 L618.45 343.76 L618.80 343.82 L619.16 343.88 L619.51 343.95 L619.86 344.01 L620.22 344.07 L620.57 344.13 L620.92 344.19 L621.28 344.25 L621.63 344.31 L621.98 344.37 L622.33 344.42 L622.69 344.48 L623.04 344.54 L623.39 344.59 L623.75 344.65 L624.10 344.70 L624.45 344.76 L624.81 344.81 L625.16 344.87 L625.51 344.92 L625.87 344.97 L626.22 345.02 L626.57 345.07 L626.93 345.13 L627.28 345.18 L627.63 345.23 L627.99 345.28 L628.34 345.33 L628.69 345.38 L629.05 345.43 L629.40 345.47 L629.75 345.52 L630.10 345.57 L630.46 345.62 L630.81 345.66 L631.16 345.71 L631.52 345.76 L631.87 345.80 L632.22 345.85 L632.58 345.89 L632.93 345.94 L633.28 345.98 L633.64 346.03 L633.99 346.07 L634.34 346.12 L634.70 346.16 L635.05 346.20 L635.40 346.25 L635.76 346.29 L636.11 346.33 L636.46 346.37 L636.82 346.41 L637.17 346.46 L637.52 346.50 L637.87 346.54 L638.23 346.58 L638.58 346.62 L638.93 346.66 L639.29 346.70 L639.64 346.74 L639.99 346.78 L640.35 346.82 L640.70 346.86" stroke="#000" stroke-width="1.85" fill="none" stroke-dasharray="0 5.883" stroke-linecap="round"/>
<path d="M535.10 346.85 L535.46 346.89 L535.81 346.92 L536.17 346.96 L536.53 346.99 L536.89 347.03 L537.24 347.07 L537.60 347.10 L537.96 347.14 L538.31 347.17 L538.67 347.21 L539.03 347.25 L539.39 347.28 L539.74 347.32 L540.10 347.36 L540.46 347.39 L540.82 347.43 L541.17 347.47 L541.53 347.51 L541.89 347.54 L542.24 347.58 L542.60 347.62 L542.96 347.66 L543.32 347.70 L543.67 347.74 L544.03 347.78 L544.39 347.82 L544.74 347.86 L545.10 347.90 L545.46 347.94 L545.82 347.98 L546.17 348.02 L546.53 348.06 L546.89 348.10 L547.24 348.14 L547.60 348.18 L547.96 348.23 L548.32 348.27 L548.67 348.31 L549.03 348.35 L549.39 348.40 L549.74 348.44 L550.10 348.48 L550.46 348.53 L550.82 348.57 L551.17 348.62 L551.53 348.66 L551.89 348.71 L552.25 348.75 L552.60 348.80 L552.96 348.84 L553.32 348.89 L553.67 348.94 L554.03 348.99 L554.39 349.03 L554.75 349.08 L555.10 349.13 L555.46 349.18 L555.82 349.23 L556.17 349.28 L556.53 349.33 L556.89 349.38 L557.25 349.43 L557.60 349.48 L557.96 349.53 L558.32 349.58 L558.67 349.64 L559.03 349.69 L559.39 349.74 L559.75 349.80 L560.10 349.85 L560.46 349.91 L560.82 349.96 L561.17 350.02 L561.53 350.07 L561.89 350.13 L562.25 350.19 L562.60 350.25 L562.96 350.31 L563.32 350.37 L563.68 350.43 L564.03 350.49 L564.39 350.55 L564.75 350.61 L565.10 350.67 L565.46 350.73 L565.82 350.80 L566.18 350.86 L566.53 350.93 L566.89 350.99 L567.25 351.06 L567.60 351.12 L567.96 351.19 L568.32 351.26 L568.68 351.33 L569.03 351.40 L569.39 351.47 L569.75 351.54 L570.10 351.61 L570.46 351.68 L570.82 351.76 L571.18 351.83 L571.53 351.91 L571.89 351.98 L572.25 352.06 L572.61 352.14 L572.96 352.22 L573.32 352.30 L573.68 352.38 L574.03 352.46 L574.39 352.54 L574.75 352.63 L575.11 352.71 L575.46 352.80 L575.82 352.88 L576.18 352.97 L576.53 353.06 L576.89 353.15 L577.25 353.24 L577.61 353.33 L577.96 353.42 L578.32 353.52 L578.68 353.61 L579.03 353.71 L579.39 353.81 L579.75 353.91 L580.11 354.01 L580.46 354.11 L580.82 354.21 L581.18 354.31 L581.53 354.42 L581.89 354.52 L582.25 354.63 L582.61 354.74 L582.96 354.85 L583.32 354.96 L583.68 355.08 L584.04 355.19 L584.39 355.31 L584.75 355.42 L585.11 355.54 L585.46 355.66 L585.82 355.78 L586.18 355.90 L586.54 356.03 L586.89 356.15 L587.25 356.28 L587.61 356.41 L587.96 356.54 L588.32 356.67 L588.68 356.80 L589.04 356.94 L589.39 357.07 L589.75 357.21 L590.11 357.35 L590.46 357.49 L590.82 357.63 L591.18 357.78 L591.54 357.92 L591.89 358.07 L592.25 358.21 L592.61 358.36 L592.96 358.52 L593.32 358.67 L593.68 358.82 L594.04 358.98 L594.39 359.14 L594.75 359.29 L595.11 359.45 L595.47 359.62 L595.82 359.78 L596.18 359.94 L596.54 360.11 L596.89 360.28 L597.25 360.45 L597.61 360.62 L597.97 360.79 L598.32 360.96 L598.68 361.14 L599.04 361.32 L599.39 361.49 L599.75 361.67 L600.11 361.85 L600.47 362.04 L600.82 362.22 L601.18 362.40 L601.54 362.59 L601.89 362.78 L602.25 362.97 L602.61 363.16 L602.97 363.35 L603.32 363.54 L603.68 363.74 L604.04 363.93 L604.39 364.13 L604.75 364.33 L605.11 364.53 L605.47 364.73 L605.82 364.93 L606.18 365.13 L606.54 365.33 L606.90 365.54 L607.25 365.74 L607.61 365.95 L607.97 366.16 L608.32 366.37 L608.68 366.58 L609.04 366.79 L609.40 367.00 L609.75 367.22 L610.11 367.43 L610.47 367.65 L610.82 367.86 L611.18 368.08 L611.54 368.30 L611.90 368.52 L612.25 368.74 L612.61 368.96 L612.97 369.18 L613.32 369.40 L613.68 369.63 L614.04 369.85 L614.40 370.08 L614.75 370.30 L615.11 370.53 L615.47 370.76 L615.83 370.98 L616.18 371.21 L616.54 371.44 L616.90 371.67 L617.25 371.91 L617.61 372.14 L617.97 372.37 L618.33 372.60 L618.68 372.84 L619.04 373.07 L619.40 373.31 L619.75 373.54 L620.11 373.78 L620.47 374.02 L620.83 374.25 L621.18 374.49 L621.54 374.73 L621.90 374.97 L622.25 375.21 L622.61 375.45 L622.97 375.69 L623.33 375.93 L623.68 376.18 L624.04 376.42 L624.40 376.66 L624.75 376.91 L625.11 377.15 L625.47 377.40 L625.83 377.64 L626.18 377.89 L626.54 378.13 L626.90 378.38 L627.26 378.63 L627.61 378.87 L627.97 379.12 L628.33 379.37 L628.68 379.62 L629.04 379.87 L629.40 380.12 L629.76 380.37 L630.11 380.62 L630.47 380.87 L630.83 381.12 L631.18 381.37 L631.54 381.62 L631.90 381.87 L632.26 382.12 L632.61 382.38 L632.97 382.63 L633.33 382.88 L633.68 383.14 L634.04 383.39 L634.40 383.65 L634.76 383.90 L635.11 384.16 L635.47 384.41 L635.83 384.67 L636.18 384.92 L636.54 385.18 L636.90 385.43 L637.26 385.69 L637.61 385.95 L637.97 386.20 L638.33 386.46 L638.69 386.72 L639.04 386.98 L639.40 387.23 L639.76 387.49 L640.11 387.75 L640.47 388.01 L640.83 388.27 L641.19 388.53 L641.54 388.79 L641.90 389.05" stroke="#000" stroke-width="1.85" fill="none" stroke-dasharray="0 5.853" stroke-linecap="round"/>
<path d="M535.10 323.40L645.70 369.61" stroke="#0000ff" stroke-width="1.5"/>
<circle cx="535.10" cy="314.40" r="1.7" fill="#0000ff"/>
<circle cx="559.70" cy="362.70" r="1.7" fill="#0000ff"/>
<circle cx="567.40" cy="332.40" r="1.7" fill="#0000ff"/>
<circle cx="569.50" cy="326.20" r="1.7" fill="#0000ff"/>
<circle cx="573.00" cy="337.40" r="1.7" fill="#0000ff"/>
<circle cx="588.20" cy="312.20" r="1.7" fill="#0000ff"/>
<circle cx="588.20" cy="342.30" r="1.7" fill="#0000ff"/>
<circle cx="595.50" cy="369.00" r="1.7" fill="#0000ff"/>
<circle cx="597.60" cy="368.20" r="1.7" fill="#0000ff"/>
<circle cx="617.20" cy="373.50" r="1.7" fill="#0000ff"/>
<circle cx="621.20" cy="340.70" r="1.7" fill="#0000ff"/>
<circle cx="636.60" cy="366.20" r="1.7" fill="#0000ff"/>
<circle cx="645.70" cy="366.20" r="1.7" fill="#0000ff"/>
<text x="491.60" y="356.90" font-size="11.2" text-anchor="middle" font-weight="normal" fill="#000" transform="rotate(-90 491.60 356.90)" stroke="#000" stroke-width="0.4">Palmitoleic acid</text>
<text x="591.50" y="471.20" font-size="11.0" text-anchor="middle" font-weight="normal" fill="#000" stroke="#000" stroke-width="0.4">logPCT</text>
<text x="530.40" y="491.30" font-size="11.35" text-anchor="start" font-weight="bold" fill="#000" >R square: 0.37</text>
<text x="530.40" y="504.30" font-size="11.5" text-anchor="start" font-weight="bold" fill="#000" >95% CI: -0.52 to -0.039</text>
</svg>
</body></html>
